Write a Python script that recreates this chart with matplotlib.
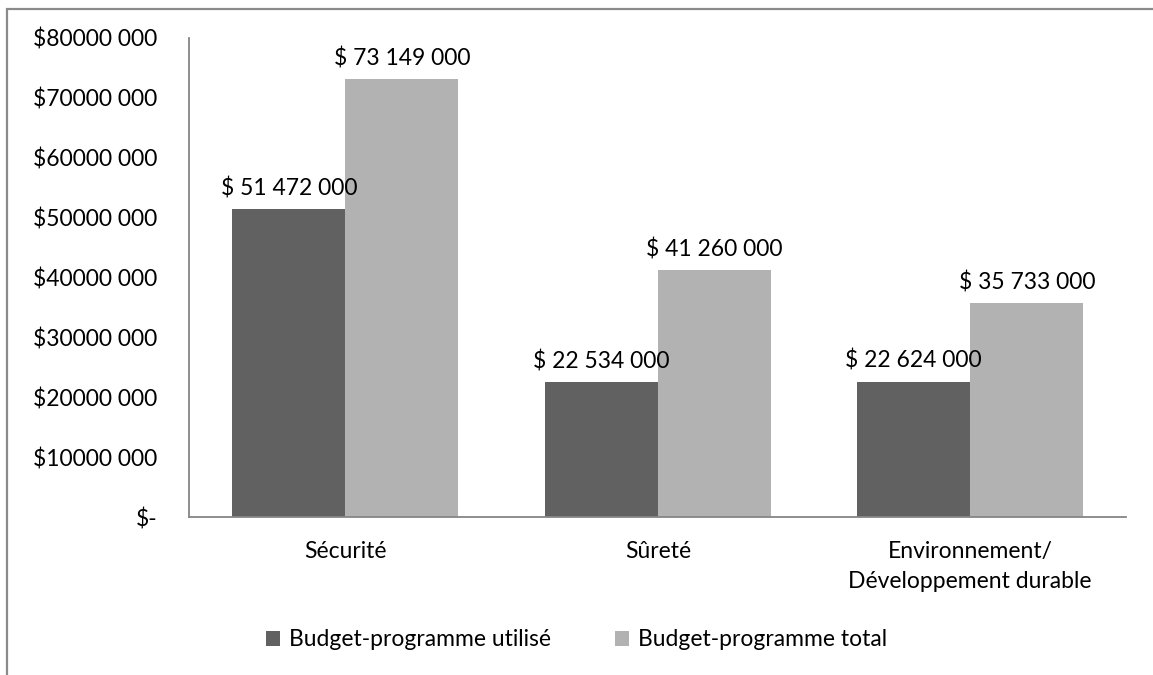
import numpy as np
import matplotlib
matplotlib.use("Agg")
import matplotlib.pyplot as plt
from matplotlib.ticker import FuncFormatter, MultipleLocator
from matplotlib.patches import Rectangle

categories = ["Sécurité", "Sûreté", "Environnement/\nDéveloppement durable"]
utilise = [51472000, 22534000, 22624000]
total = [73149000, 41260000, 35733000]
series_names = ["Budget-programme utilisé", "Budget-programme total"]

plt.rcParams['font.family'] = ['Lato', 'DejaVu Sans']
FS = 16.5

fig = plt.figure(figsize=(11.53, 6.75), dpi=100)
ax = fig.add_axes([0.164, 0.234, 0.813, 0.710])

x = np.arange(len(categories))
w = 0.362
b1 = ax.bar(x - w / 2, utilise, w, color="#616161", label=series_names[0])
b2 = ax.bar(x + w / 2, total, w, color="#b2b2b2", label=series_names[1])


def money(v):
    return "$ " + f"{v:,}".replace(",", " ")


for bars, vals in ((b1, utilise), (b2, total)):
    for r, v in zip(bars, vals):
        ax.text(r.get_x() + r.get_width() / 2, v + 1.6e6, money(v),
                ha="center", va="bottom", fontsize=FS, color="black")


def ytick(v, pos):
    if v == 0:
        return "$-"
    return "$%d 000" % (v // 1000)


ax.set_xlim(-0.5, 2.5)
ax.set_ylim(0, 80000000)
ax.yaxis.set_major_locator(MultipleLocator(10000000))
ax.yaxis.set_major_formatter(FuncFormatter(ytick))
ax.set_xticks(x)
ax.set_xticklabels(categories, fontsize=FS, linespacing=1.55)
ax.tick_params(axis="both", length=0, labelsize=FS, colors="black")
ax.tick_params(axis="y", pad=23)
ax.tick_params(axis="x", pad=17)

for s in ("top", "right"):
    ax.spines[s].set_visible(False)
for s in ("left", "bottom"):
    ax.spines[s].set_color("#868686")
    ax.spines[s].set_linewidth(1.3)

fig.legend(handles=[b1, b2], labels=series_names, loc="center",
           bbox_to_anchor=(0.500, 0.052), ncol=2, frameon=False,
           fontsize=FS, handlelength=0.6, handleheight=0.6,
           handletextpad=0.4, columnspacing=2.8)

# outer chart border
fig.patches.append(Rectangle((7 / 1153, -0.05), 1.2, 0.05 + (675 - 9) / 675,
                             transform=fig.transFigure, fill=False,
                             edgecolor="#8a8a8a", linewidth=1.6))

fig.savefig("out.png", dpi=100)
